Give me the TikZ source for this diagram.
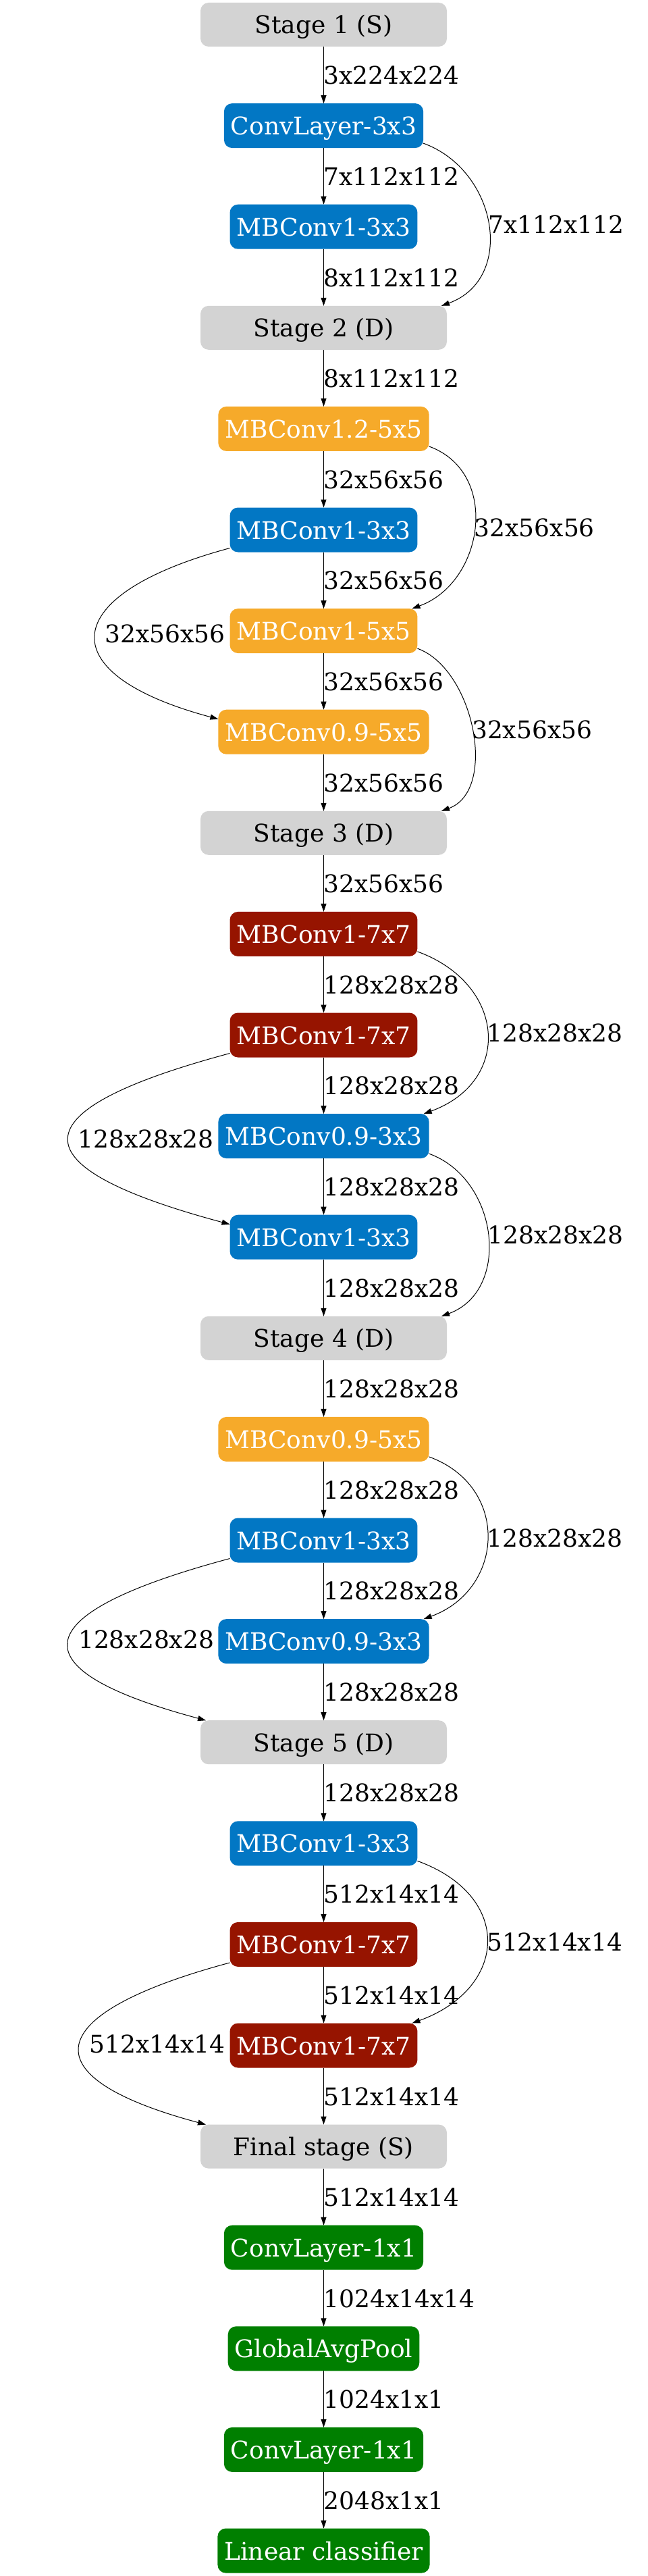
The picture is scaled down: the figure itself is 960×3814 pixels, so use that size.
\documentclass[tikz,border=0pt]{standalone}
\usepackage{fontspec}
\setmainfont{DejaVu Serif}
\usetikzlibrary{arrows.meta,positioning}
\newdimen\hdim
\newdimen\wdim
\newdimen\rdim
\hdim=66pt
\wdim=365pt
\rdim=149.6pt
\definecolor{blockblue}{HTML}{0277C4}
\definecolor{blockorange}{HTML}{F6AA2A}
\definecolor{blockred}{HTML}{961400}
\definecolor{blockgreen}{HTML}{007F00}
\definecolor{stagegray}{HTML}{D3D3D3}
\tikzstyle{block}=[
  font={\fontsize{36pt}{43pt}\selectfont},
  inner xsep=10pt,
  inner ysep=0pt,
  minimum height=\hdim,
  outer sep=0pt,
  rectangle,
  rounded corners=12pt,
  text height=27pt,
  text depth=0pt,
  text=white,
]
\tikzstyle{stagebox}=[
  block,
  fill=stagegray,
  minimum height=65pt,
  minimum width=\wdim,
  text=black,
]
\tikzstyle{bluebox}=[block, fill=blockblue]
\tikzstyle{orangebox}=[block, fill=blockorange]
\tikzstyle{redbox}=[block, fill=blockred]
\tikzstyle{greenbox}=[block, fill=blockgreen]
\tikzstyle{arrow}=[
  color=black,
  draw=black,
  line width=1pt,
]
\tikzstyle{dims}=[
  anchor=west,
  font={\fontsize{36pt}{43pt}\selectfont},
  inner sep=0pt,
  outer sep=0pt,
  text height=27pt,
  text depth=0pt,
]
\tikzset{
  node distance=\rdim,
  >={Triangle[length=12pt,width=8pt]},
  rskip/.style={out=-20,in=20,looseness=#1},
  lskip/.style={out=195,in=165,looseness=#1},
}

\begin{document}
\begin{tikzpicture}[x=1pt,y=1pt]
    \useasboundingbox (0,0) rectangle (960,-3814);
    \node (stage1) [stagebox] at (479.5,-36.5) {Stage 1 (S)};
    \node (s1a) [bluebox, below of=stage1] {ConvLayer-3x3};
    \node (s1b) [bluebox, below of=s1a] {MBConv1-3x3};
    \node (stage2) [stagebox, below of=s1b] {Stage 2 (D)};
    \node (s2a) [orangebox, below of=stage2] {MBConv1.2-5x5};
    \node (s2b) [bluebox, below of=s2a] {MBConv1-3x3};
    \node (s2c) [orangebox, below of=s2b] {MBConv1-5x5};
    \node (s2d) [orangebox, below of=s2c] {MBConv0.9-5x5};
    \node (stage3) [stagebox, below of=s2d] {Stage 3 (D)};
    \node (s3a) [redbox, below of=stage3] {MBConv1-7x7};
    \node (s3b) [redbox, below of=s3a] {MBConv1-7x7};
    \node (s3c) [bluebox, below of=s3b] {MBConv0.9-3x3};
    \node (s3d) [bluebox, below of=s3c] {MBConv1-3x3};
    \node (stage4) [stagebox, below of=s3d] {Stage 4 (D)};
    \node (s4a) [orangebox, below of=stage4] {MBConv0.9-5x5};
    \node (s4b) [bluebox, below of=s4a] {MBConv1-3x3};
    \node (s4c) [bluebox, below of=s4b] {MBConv0.9-3x3};
    \node (stage5) [stagebox, below of=s4c] {Stage 5 (D)};
    \node (s5a) [bluebox, below of=stage5] {MBConv1-3x3};
    \node (s5b) [redbox, below of=s5a] {MBConv1-7x7};
    \node (s5c) [redbox, below of=s5b] {MBConv1-7x7};
    \node (final) [stagebox, below of=s5c] {Final stage (S)};
    \node (head) [greenbox, below of=final] {ConvLayer-1x1};
    \node (pool) [greenbox, below of=head] {GlobalAvgPool};
    \node (expand) [greenbox, below of=pool] {ConvLayer-1x1};
    \node (linear) [greenbox, below of=expand] {Linear classifier};
    \draw [->, arrow] (stage1) -- node [dims] {3x224x224} (s1a);
    \draw [->, arrow] (s1a) -- node [dims] {7x112x112} (s1b);
    \draw [->, arrow] (s1b) -- node [dims] {8x112x112} (stage2);
    \draw [->, arrow] (stage2) -- node [dims] {8x112x112} (s2a);
    \draw [->, arrow] (s2a) -- node [dims] {32x56x56} (s2b);
    \draw [->, arrow] (s2b) -- node [dims] {32x56x56} (s2c);
    \draw [->, arrow] (s2c) -- node [dims] {32x56x56} (s2d);
    \draw [->, arrow] (s2d) -- node [dims] {32x56x56} (stage3);
    \draw [->, arrow] (stage3) -- node [dims] {32x56x56} (s3a);
    \draw [->, arrow] (s3a) -- node [dims] {128x28x28} (s3b);
    \draw [->, arrow] (s3b) -- node [dims] {128x28x28} (s3c);
    \draw [->, arrow] (s3c) -- node [dims] {128x28x28} (s3d);
    \draw [->, arrow] (s3d) -- node [dims] {128x28x28} (stage4);
    \draw [->, arrow] (stage4) -- node [dims] {128x28x28} (s4a);
    \draw [->, arrow] (s4a) -- node [dims] {128x28x28} (s4b);
    \draw [->, arrow] (s4b) -- node [dims] {128x28x28} (s4c);
    \draw [->, arrow] (s4c) -- node [dims] {128x28x28} (stage5);
    \draw [->, arrow] (stage5) -- node [dims] {128x28x28} (s5a);
    \draw [->, arrow] (s5a) -- node [dims] {512x14x14} (s5b);
    \draw [->, arrow] (s5b) -- node [dims] {512x14x14} (s5c);
    \draw [->, arrow] (s5c) -- node [dims] {512x14x14} (final);
    \draw [->, arrow] (final) -- node [dims] {512x14x14} (head);
    \draw [->, arrow] (head) -- node [dims] {1024x14x14} (pool);
    \draw [->, arrow] (pool) -- node [dims] {1024x1x1} (expand);
    \draw [->, arrow] (expand) -- node [dims] {2048x1x1} (linear);
    \draw [->, arrow] ([yshift=7pt]s1a.south east) to [rskip=1.24] node [dims] {7x112x112} ([xshift=-8pt]stage2.north east);
    \draw [->, arrow] ([yshift=7pt]s2a.south east) to [rskip=1.2] node [dims] {32x56x56} ([xshift=-8pt]s2c.north east);
    \draw [->, arrow] ([yshift=7pt]s2c.south east) to [rskip=0.94] node [dims] {32x56x56} ([xshift=-8pt]stage3.north east);
    \draw [->, arrow] ([yshift=7pt]s3a.south east) to [rskip=1.49] node [dims] {128x28x28} ([xshift=-8pt]s3c.north east);
    \draw [->, arrow] ([yshift=7pt]s3c.south east) to [rskip=1.17] node [dims] {128x28x28} ([xshift=-8pt]stage4.north east);
    \draw [->, arrow] ([yshift=7pt]s4a.south east) to [rskip=1.36] node [dims] {128x28x28} ([xshift=-8pt]s4c.north east);
    \draw [->, arrow] ([yshift=7pt]s5a.south east) to [rskip=1.61] node [dims] {512x14x14} ([xshift=-8pt]s5c.north east);
    \draw [->, arrow] ([yshift=6pt]s2b.south west) to [lskip=2.65] node [dims, xshift=14pt] {32x56x56} ([yshift=-14pt]s2d.north west);
    \draw [->, arrow] ([yshift=6pt]s3b.south west) to [lskip=3.34] node [dims, xshift=14pt] {128x28x28} ([yshift=-14pt]s3d.north west);
    \draw [->, arrow] ([yshift=6pt]s4b.south west) to [lskip=3.22] node [dims, xshift=14pt] {128x28x28} ([xshift=8pt]stage5.north west);
    \draw [->, arrow] ([yshift=6pt]s5b.south west) to [lskip=2.98] node [dims, xshift=14pt] {512x14x14} ([xshift=8pt]final.north west);
  \end{tikzpicture}
\end{document}
